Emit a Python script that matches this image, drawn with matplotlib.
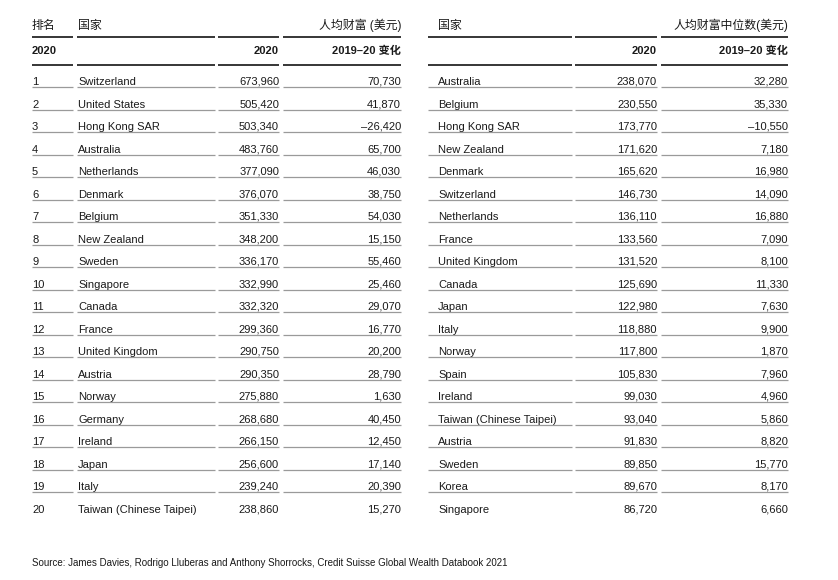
import matplotlib
matplotlib.use("Agg")
import matplotlib.pyplot as plt

plt.rcParams['font.family'] = ['Liberation Sans', 'Noto Sans CJK SC', 'DejaVu Sans']

ranks = list(range(1, 21))
left_countries = ["Switzerland", "United States", "Hong Kong SAR", "Australia", "Netherlands",
                  "Denmark", "Belgium", "New Zealand", "Sweden", "Singapore", "Canada", "France",
                  "United Kingdom", "Austria", "Norway", "Germany", "Ireland", "Japan", "Italy",
                  "Taiwan (Chinese Taipei)"]
left_wealth = [673960, 505420, 503340, 483760, 377090, 376070, 351330, 348200, 336170, 332990,
               332320, 299360, 290750, 290350, 275880, 268680, 266150, 256600, 239240, 238860]
left_change = [70730, 41870, -26420, 65700, 46030, 38750, 54030, 15150, 55460, 25460,
               29070, 16770, 20200, 28790, 1630, 40450, 12450, 17140, 20390, 15270]

right_countries = ["Australia", "Belgium", "Hong Kong SAR", "New Zealand", "Denmark", "Switzerland",
                   "Netherlands", "France", "United Kingdom", "Canada", "Japan", "Italy", "Norway",
                   "Spain", "Ireland", "Taiwan (Chinese Taipei)", "Austria", "Sweden", "Korea",
                   "Singapore"]
right_median = [238070, 230550, 173770, 171620, 165620, 146730, 136110, 133560, 131520, 125690,
                122980, 118880, 117800, 105830, 99030, 93040, 91830, 89850, 89670, 86720]
right_change = [32280, 35330, -10550, 7180, 16980, 14090, 16880, 7090, 8100, 11330,
                7630, 9900, 1870, 7960, 4960, 5860, 8820, 15770, 8170, 6660]

header_left = ["排名", "国家", "人均财富 (美元)"]
header_right = ["国家", "人均财富中位数(美元)"]
sub_year = "2020"
sub_change = "2019–20 变化"
source = "Source: James Davies, Rodrigo Lluberas and Anthony Shorrocks, Credit Suisse Global Wealth Databook 2021"


def fmt(v):
    s = f"{abs(v):,}"
    return ("–" + s) if v < 0 else s


W, H = 838, 580
fig = plt.figure(figsize=(W / 100, H / 100), dpi=100)
ax = fig.add_axes([0, 0, 1, 1])
ax.set_xlim(0, W)
ax.set_ylim(H, 0)
ax.axis('off')

FS = 8
FS_CJK = 8.6
TC = '#1a1a1a'
GRAY = '#9a9a9a'

L_cols = [(32, 73), (77, 215), (218, 279), (283, 401)]
R_cols = [(428, 572), (575, 657), (661, 788)]

y_title = 29
y_line1 = 37.3
y_sub = 54
y_line2 = 65
y_row0 = 85
dy = 22.52
NUDGE = -0.25


def hline(x0, x1, y, color, lw):
    ax.plot([x0, x1], [y, y], color=color, lw=lw, solid_capstyle='butt')


def txt(x, y, s, ha='left', fs=FS, bold=False):
    ax.text(x, y + NUDGE, s, fontsize=fs, color=TC, va='baseline', ha=ha,
            fontweight='bold' if bold else 'normal')


# headers left
txt(L_cols[0][0], y_title, header_left[0], fs=FS_CJK)
txt(L_cols[1][0] + 1, y_title, header_left[1], fs=FS_CJK)
txt(L_cols[3][1], y_title, header_left[2], ha='right', fs=FS_CJK)
txt(L_cols[0][0], y_sub, sub_year, bold=True)
txt(L_cols[2][1], y_sub, sub_year, ha='right', bold=True)
txt(L_cols[3][1], y_sub, sub_change, ha='right', bold=True)
for c in L_cols:
    hline(c[0], c[1], y_line1, 'black', 1.1)
    hline(c[0], c[1], y_line2, 'black', 1.1)

# headers right
txt(R_cols[0][0] + 10, y_title, header_right[0], fs=FS_CJK)
txt(R_cols[2][1], y_title, header_right[1], ha='right', fs=FS_CJK)
txt(R_cols[1][1], y_sub, sub_year, ha='right', bold=True)
txt(R_cols[2][1], y_sub, sub_change, ha='right', bold=True)
for c in R_cols:
    hline(c[0], c[1], y_line1, 'black', 1.1)
    hline(c[0], c[1], y_line2, 'black', 1.1)

n = len(ranks)
for i in range(n):
    y = round(y_row0 + i * dy)
    txt(L_cols[0][0], y, str(ranks[i]))
    txt(L_cols[1][0] + 1, y, left_countries[i])
    txt(L_cols[2][1], y, fmt(left_wealth[i]), ha='right')
    txt(L_cols[3][1], y, fmt(left_change[i]), ha='right')
    txt(R_cols[0][0] + 10, y, right_countries[i])
    txt(R_cols[1][1], y, fmt(right_median[i]), ha='right')
    txt(R_cols[2][1], y, fmt(right_change[i]), ha='right')
    if i < n - 1:
        yl = y + 1.7
        for c in L_cols:
            hline(c[0], c[1], yl, GRAY, 0.9)
        for c in R_cols:
            hline(c[0], c[1], yl, GRAY, 0.9)

ax.text(32, 566.5, source, fontsize=7.05, color=TC, va='baseline', ha='left')

fig.savefig('out.png', dpi=100)
